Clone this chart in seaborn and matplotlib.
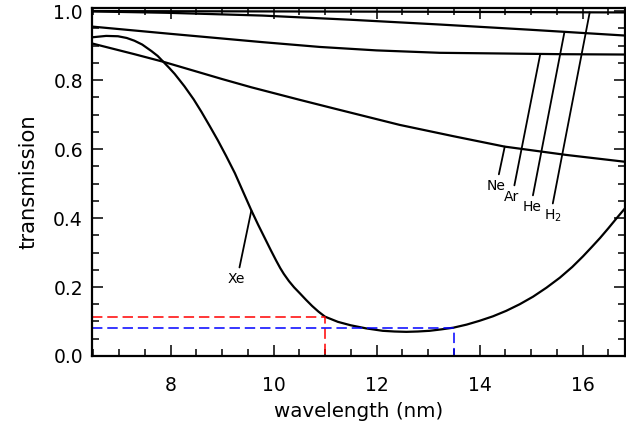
import numpy as np
import pandas as pd
import matplotlib
matplotlib.use("Agg")
import matplotlib.pyplot as plt
import seaborn as sns
from matplotlib.ticker import MultipleLocator, FormatStrFormatter

# Transmission of the filter gases versus wavelength (nm)
xe_wl = [6.48, 6.75, 6.98, 7.15, 7.30, 7.45, 7.63, 7.75, 7.86, 7.97, 8.08, 8.17,
         8.27, 8.45, 8.60, 8.76, 8.92, 9.08, 9.25, 9.41, 9.57, 9.70, 9.83, 9.95,
         10.05, 10.13, 10.20, 10.30, 10.40, 10.51, 10.63, 10.75, 10.87, 11.00,
         11.25, 11.50, 11.80, 12.12, 12.35, 12.58, 12.80, 13.03, 13.25, 13.49,
         13.75, 14.00, 14.26, 14.52, 14.78, 15.04, 15.30, 15.56, 15.80, 16.01,
         16.18, 16.34, 16.50, 16.66, 16.83]
xe_tr = [0.924, 0.928, 0.927, 0.922, 0.914, 0.903, 0.884, 0.870, 0.853, 0.836,
         0.818, 0.801, 0.782, 0.744, 0.708, 0.667, 0.625, 0.580, 0.530, 0.476,
         0.422, 0.381, 0.342, 0.306, 0.277, 0.255, 0.238, 0.217, 0.199, 0.182,
         0.163, 0.145, 0.129, 0.114, 0.099, 0.089, 0.080, 0.073, 0.071, 0.070,
         0.071, 0.073, 0.077, 0.082, 0.091, 0.102, 0.115, 0.131, 0.150, 0.172,
         0.198, 0.227, 0.258, 0.289, 0.316, 0.342, 0.370, 0.399, 0.429]

ne_wl = [6.48, 7.30, 7.86, 9.00, 9.57, 10.50, 11.19, 12.45, 13.50, 14.49, 15.68, 16.83]
ne_tr = [0.906, 0.875, 0.853, 0.803, 0.779, 0.743, 0.717, 0.670, 0.637, 0.607, 0.583, 0.563]

ar_wl = [6.48, 8.00, 9.78, 10.90, 12.00, 13.23, 14.45, 15.60, 16.83]
ar_tr = [0.955, 0.934, 0.910, 0.896, 0.886, 0.879, 0.877, 0.875, 0.874]

he_wl = [6.48, 7.94, 9.78, 11.48, 13.23, 14.97, 16.83]
he_tr = [0.999, 0.995, 0.987, 0.975, 0.961, 0.946, 0.929]

h2_wl = [6.48, 10.00, 13.00, 16.83]
h2_tr = [1.000, 0.999, 0.998, 0.996]

# Cut-off levels marked with dashed guides: (wavelength, transmission)
red_cut = (11.0, 0.114)
blue_cut = (13.5, 0.081)

# Curve labels: name, curve, wavelength where the leader meets it, label centre
labels = [
    ("Xe", xe_wl, xe_tr, 9.57, (9.28, 0.223), (0.62, 1.0)),
    ("Ne", ne_wl, ne_tr, 14.49, (14.32, 0.493), (0.6, 1.0)),
    ("Ar", ar_wl, ar_tr, 15.18, (14.63, 0.461), (0.6, 1.0)),
    ("He", he_wl, he_tr, 15.65, (15.02, 0.432), (0.5, 1.0)),
    ("H$_2$", h2_wl, h2_tr, 16.14, (15.42, 0.405), (0.45, 0.95)),
]

sns.set_theme(style="ticks")
plt.rcParams["font.family"] = ["DejaVu Sans"]
plt.rcParams["lines.scale_dashes"] = False

fig = plt.figure(figsize=(6.26, 4.24), dpi=100)
ax = fig.add_axes([0.147, 0.1604, 0.8514, 0.8208])

for wl, tr in [(h2_wl, h2_tr), (he_wl, he_tr), (ar_wl, ar_tr), (ne_wl, ne_tr), (xe_wl, xe_tr)]:
    df = pd.DataFrame({"wavelength": wl, "transmission": tr})
    sns.lineplot(data=df, x="wavelength", y="transmission", color="black",
                 linewidth=1.6, ax=ax)

x0 = 6.476
ax.plot([x0, red_cut[0], red_cut[0]], [red_cut[1], red_cut[1], 0],
        color="#ff0000", lw=1.1, dashes=(7.5, 3.5))
ax.plot([x0, blue_cut[0], blue_cut[0]], [blue_cut[1], blue_cut[1], 0],
        color="#0000ff", lw=1.1, dashes=(7.5, 3.5))

for name, wl, tr, hit, (lx, ly), rel in labels:
    ax.annotate(name, xy=(hit, float(np.interp(hit, wl, tr))), xytext=(lx, ly),
                textcoords="data", ha="center", va="center", fontsize=10,
                color="black",
                arrowprops=dict(arrowstyle="-", lw=1.3, color="black",
                                shrinkA=1, shrinkB=0, relpos=rel))

ax.set_xlim(x0, 16.825)
ax.set_ylim(0, 1.009)

ax.xaxis.set_major_locator(MultipleLocator(2))
ax.xaxis.set_minor_locator(MultipleLocator(0.5))
ax.yaxis.set_major_locator(MultipleLocator(0.2))
ax.yaxis.set_minor_locator(MultipleLocator(0.05))
ax.yaxis.set_major_formatter(FormatStrFormatter("%.1f"))
ax.xaxis.set_major_formatter(FormatStrFormatter("%d"))

ax.tick_params(which="both", direction="in", top=True, right=True,
               color="black", width=1.1)
ax.tick_params(which="major", length=8)
ax.tick_params(which="minor", length=5.3)
ax.tick_params(axis="x", which="major", pad=14.2, labelsize=13.5, labelcolor="black")
ax.tick_params(axis="y", which="major", pad=6.5, labelsize=13.5, labelcolor="black")

for sp in ax.spines.values():
    sp.set_linewidth(1.6)
    sp.set_color("black")

ax.set_xlabel("wavelength (nm)", fontsize=14.3, color="black")
ax.set_ylabel("transmission", fontsize=15.2, color="black")
ax.xaxis.set_label_coords(0.5, -0.132)
ax.yaxis.set_label_coords(-0.101, 0.5)

fig.savefig("out.png", dpi=100, facecolor="white")
